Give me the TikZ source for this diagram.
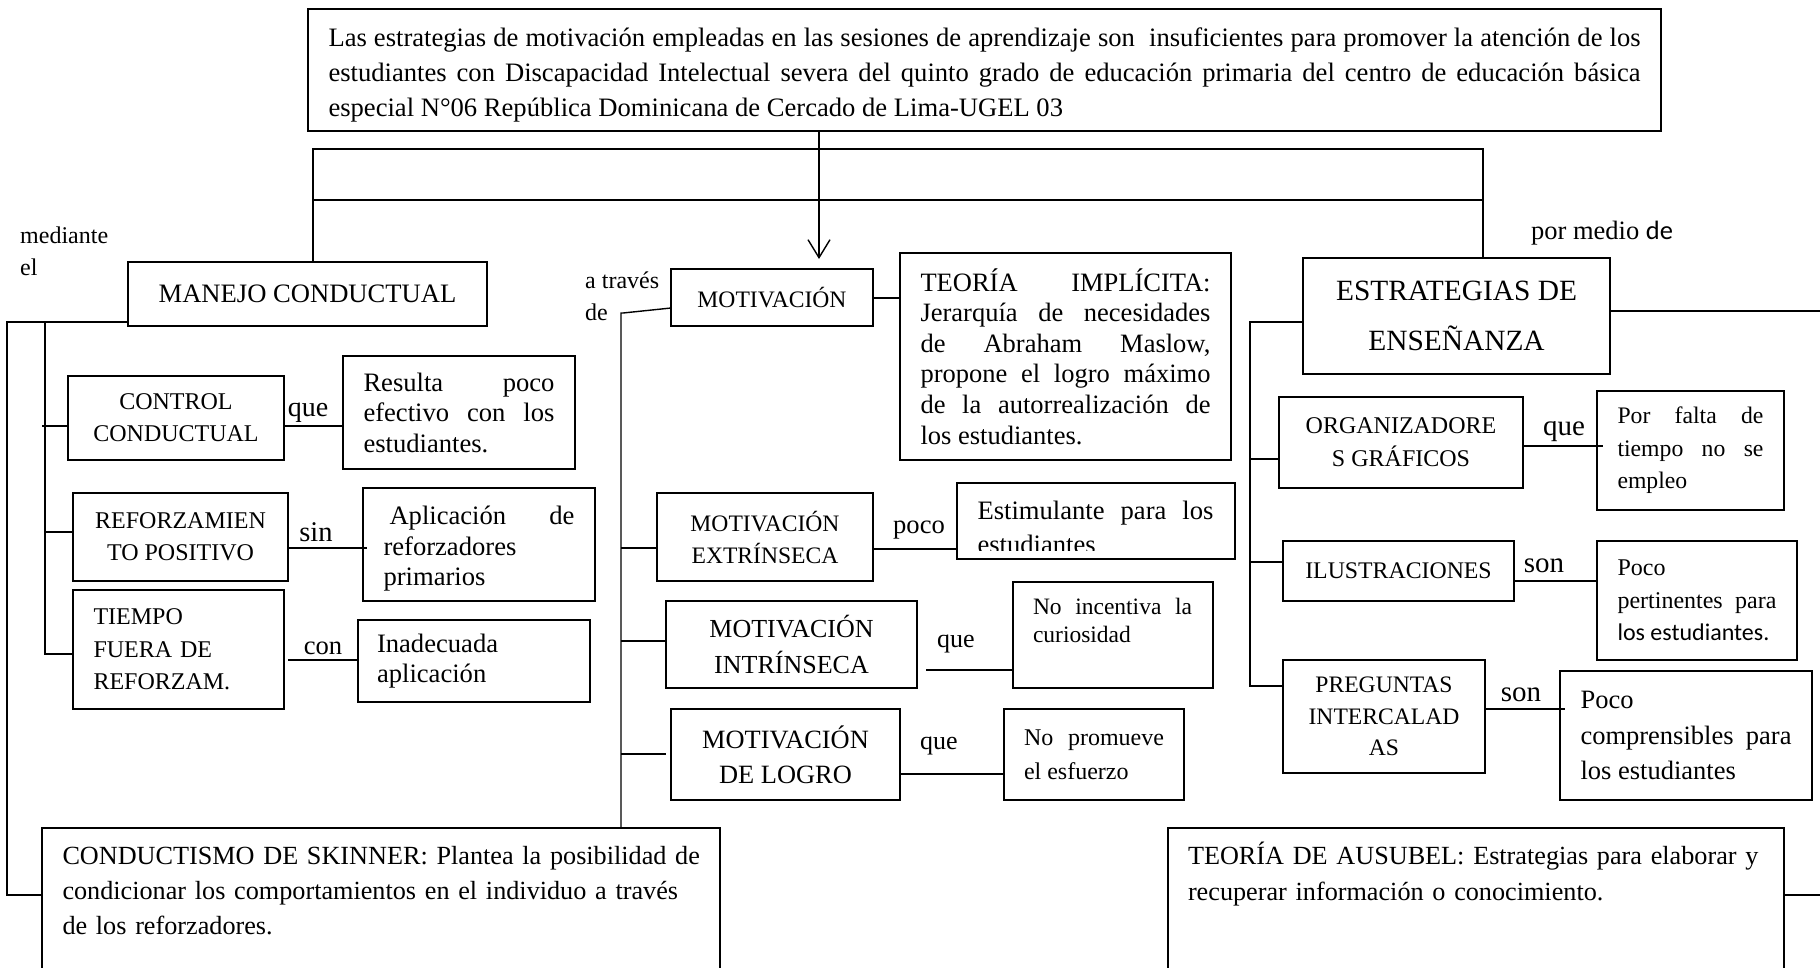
\documentclass[tikz,border=0pt]{standalone}
\usepackage{fontspec}
\setmainfont{Liberation Serif}
\newfontfamily\carl{Carlito}
\usetikzlibrary{arrows.meta}
\tolerance=10000
\hbadness=10000
\vbadness=10000
\hfuzz=20pt
\hyphenpenalty=10000
\exhyphenpenalty=10000
\begin{document}
\begin{tikzpicture}[x=1pt,y=-1pt,
  bx/.style={draw, line width=1.5pt, rectangle, anchor=north west, inner ysep=0pt, inner xsep=20.5pt, outer sep=0pt},
  cb/.style={bx, inner xsep=2pt, align=center},
  jb/.style={bx, align=justify},
  tx/.style={anchor=base west, inner ysep=0pt, inner xsep=20.5pt, outer sep=0pt},
  ln/.style={line width=1.4pt},
  lb/.style={inner sep=0pt},
]
\useasboundingbox (0,0) rectangle (1820,967);
\fill[white] (0,0) rectangle (1820,967);

% ---------- boxes ----------
\node[jb, minimum width=1353pt, minimum height=122pt, text width=1312pt, font=\fontsize{26.6pt}{35pt}\selectfont] (top) at (308,9)
 {\rule{0pt}{29pt}Las estrategias de motivación empleadas en las sesiones de aprendizaje son~ insuficientes para promover la atención de los\linebreak estudiantes con Discapacidad Intelectual severa del quinto grado de educación primaria del centro de educación básica\linebreak especial N°06 República Dominicana de Cercado de Lima-UGEL 03};

\node[cb, minimum width=359pt, minimum height=64pt, font=\fontsize{26.6pt}{32pt}\selectfont] (manejo) at (128,262) {MANEJO CONDUCTUAL};
\node[cb, minimum width=216pt, minimum height=84pt, font=\fontsize{24pt}{32pt}\selectfont] (control) at (68,376) {CONTROL\\CONDUCTUAL};
\node[jb, minimum width=232pt, minimum height=113pt, text width=191pt, font=\fontsize{26.6pt}{30.5pt}\selectfont] (resulta) at (343,356) {Resulta poco\linebreak efectivo con los\linebreak estudiantes.};
\node[cb, minimum width=215pt, minimum height=88pt, font=\fontsize{24pt}{32pt}\selectfont] (reforz) at (73,493) {REFORZAMIEN\\TO POSITIVO};
\node[jb, minimum width=232pt, minimum height=113pt, text width=191pt, font=\fontsize{26.6pt}{30.5pt}\selectfont] (aplic) at (363,488) {\rule{0pt}{27.5pt}\hspace*{6pt}Aplicación de\linebreak reforzadores\linebreak primarios};
\node[bx, align=left, minimum width=211pt, minimum height=119pt, text width=170pt, font=\fontsize{24pt}{32.5pt}\selectfont] (tiempo) at (73,590) {TIEMPO\\FUERA DE\\REFORZAM.};
\node[bx, align=left, inner xsep=19pt, minimum width=232pt, minimum height=82pt, text width=194pt, font=\fontsize{26.6pt}{30pt}\selectfont] (inadec) at (358,620) {Inadecuada\\aplicación};

\node[cb, minimum width=202pt, minimum height=57pt, font=\fontsize{23.6pt}{30pt}\selectfont] (motiv) at (671,269) {MOTIVACIÓN};
\node[jb, minimum width=331pt, minimum height=207pt, text width=290pt, font=\fontsize{26.5pt}{30.6pt}\selectfont] (teoria) at (900,253) {TEORÍA IMPLÍCITA:\linebreak Jerarquía de necesidades\linebreak de Abraham Maslow,\linebreak propone el logro máximo\linebreak de la autorrealización de\linebreak los estudiantes.};
\node[bx, align=center, text width=212pt, inner xsep=2pt, minimum width=216pt, minimum height=88pt, font=\fontsize{23.6pt}{32pt}\selectfont] (extr) at (657,493) {MOTIVACIÓN\\EXTRÍNSECA};
\node[bx, minimum width=278pt, minimum height=76pt] (estim) at (957,483) {};
\begin{scope}
\clip (estim.north west) rectangle (estim.south east |- 0,550);
\node[tx, text width=236pt, align=justify, font=\fontsize{26.6pt}{34pt}\selectfont] (estimtxt) at (957,519) {Estimulante para los\linebreak estudiantes};
\end{scope}
\node[cb, minimum width=251pt, minimum height=87pt, font=\fontsize{26pt}{36pt}\selectfont] (intr) at (666,601) {MOTIVACIÓN\\INTRÍNSECA};
\node[bx, minimum width=200pt, minimum height=106pt] (noinc) at (1013,582) {};
\node[tx, inner xsep=20pt, text width=159pt, align=justify, font=\fontsize{23.5pt}{28pt}\selectfont] (noinctxt) at (1013,614) {No incentiva la\linebreak curiosidad};
\node[cb, minimum width=229pt, minimum height=91pt, font=\fontsize{26.4pt}{35pt}\selectfont] (logro) at (671,709) {MOTIVACIÓN\\DE LOGRO};
\node[jb, inner xsep=20pt, minimum width=180pt, minimum height=91pt, text width=140pt, font=\fontsize{24pt}{34pt}\selectfont] (noprom) at (1004,709) {No promueve\linebreak el esfuerzo};

\node[cb, minimum width=307pt, minimum height=116pt, font=\fontsize{29.4pt}{50pt}\selectfont] (estr) at (1303,258) {ESTRATEGIAS DE\\ENSEÑANZA};
\node[cb, minimum width=244pt, minimum height=91pt, font=\fontsize{24pt}{33pt}\selectfont] (org) at (1279,397) {ORGANIZADORE\\S GRÁFICOS};
\node[jb, minimum width=187pt, minimum height=119pt, text width=146pt, font=\fontsize{23.7pt}{32.5pt}\selectfont] (porf) at (1597,391) {Por falta de\linebreak tiempo no se\linebreak empleo};
\node[cb, minimum width=231pt, minimum height=60pt, font=\fontsize{23.8pt}{30pt}\selectfont] (ilus) at (1283,541) {ILUSTRACIONES};
\node[jb, minimum width=200pt, minimum height=119pt, text width=159pt, font=\fontsize{24pt}{32.5pt}\selectfont] (pert) at (1597,541) {Poco\linebreak pertinentes para\linebreak {\carl los estudiantes.}};
\node[cb, minimum width=202pt, minimum height=113pt, font=\fontsize{23.6pt}{31.5pt}\selectfont] (preg) at (1283,660) {PREGUNTAS\\INTERCALAD\\AS};
\node[jb, minimum width=252pt, minimum height=129pt, text width=211pt, font=\fontsize{26.5pt}{35.5pt}\selectfont] (compr) at (1560,671) {Poco\linebreak comprensibles para\linebreak los estudiantes};

\node[bx, minimum width=678pt, minimum height=150pt] (skinner) at (42,828) {};
\node[tx, text width=652pt, align=left, font=\fontsize{26.2pt}{35pt}\selectfont] (skinnertxt) at (42,864) {CONDUCTISMO DE SKINNER: Plantea la posibilidad de\\condicionar los comportamientos en el individuo a través\\de los reforzadores.};
\node[bx, minimum width=616pt, minimum height=150pt] (ausubel) at (1168,828) {};
\node[tx, inner xsep=20pt, text width=592pt, align=left, font=\fontsize{26.2pt}{36pt}\selectfont] (ausubeltxt) at (1168,864) {TEORÍA DE AUSUBEL: Estrategias para elaborar y\\recuperar información o conocimiento.};

% ---------- free labels ----------
\node[lb, anchor=base west, align=left, font=\fontsize{24pt}{32pt}\selectfont] (mediante) at (20,275) {mediante\\el};
\node[lb, anchor=base west, align=left, font=\fontsize{24pt}{32pt}\selectfont] (atraves) at (585,320) {a través\\de};
\node[lb, font=\fontsize{26.5pt}{30pt}\selectfont] (pormedio) at (1602,233) {por medio {\carl de}};
\node[lb, font=\fontsize{28pt}{30pt}\selectfont] (que1) at (308,413) {que};
\node[lb, font=\fontsize{28.5pt}{30pt}\selectfont] (sin) at (316,532) {sin};
\node[lb, font=\fontsize{26.6pt}{30pt}\selectfont] (con) at (323,648) {con};
\node[lb, font=\fontsize{26.6pt}{30pt}\selectfont] (poco) at (919,530) {poco};
\node[lb, font=\fontsize{26pt}{30pt}\selectfont] (que2) at (956,644) {que};
\node[lb, font=\fontsize{26pt}{30pt}\selectfont] (que3) at (939,746) {que};
\node[lb, font=\fontsize{29pt}{30pt}\selectfont] (que4) at (1564,432) {que};
\node[lb, font=\fontsize{29pt}{30pt}\selectfont] (son1) at (1544,566) {son};
\node[lb, font=\fontsize{29pt}{30pt}\selectfont] (son2) at (1521,695) {son};

% ---------- helper coordinates ----------
\coordinate (hl1) at (313,149);
\coordinate (hr1) at (1483,149);
\coordinate (hl2) at (313,200);
\coordinate (hr2) at (1483,200);
\coordinate (arrx) at (819,0);
\coordinate (lo) at (7,0);
\coordinate (li) at (45,322);
\coordinate (mb) at (621,313);
\coordinate (rb) at (1250,322);
\coordinate (redge) at (1825,0);

% ---------- top structure ----------
\draw[ln] (hl1 |- manejo.north) -- (hl1) -- (hr1) -- (hr1 |- estr.north);
\draw[ln] (hl2) -- (hr2);
\draw[ln, -{Straight Barb[length=18pt,width=22pt,line width=1.4pt]}, shorten >=10pt] (arrx |- top.south) -- (arrx |- motiv.north);

% ---------- left branch ----------
\draw[ln] (manejo.west |- 0,322) -- (lo |- 0,322) -- (lo |- 0,895) -- (skinner.west |- 0,895);
\draw[ln] (li) -- (li |- 0,654) -- (tiempo.west |- 0,654);
\draw[ln] ([xshift=-3pt]li |- 0,426) -- (control.west |- 0,426);
\draw[ln] (li |- 0,532) -- (reforz.west |- 0,532);
\draw[ln] (control.east |- 0,426) -- (resulta.west |- 0,426);
\draw[ln, shorten >=-4pt] (reforz.east |- 0,548) -- (aplic.west |- 0,548);
\draw[ln, shorten <=4pt] (tiempo.east |- 0,660) -- (inadec.west |- 0,660);

% ---------- middle branch ----------
\draw[ln] (motiv.west |- 0,308) -- ([xshift=2pt]mb) -- (mb) -- (mb |- skinner.north);
\draw[ln] (mb |- 0,548) -- (extr.west |- 0,548);
\draw[ln] (mb |- 0,641) -- (intr.west |- 0,641);
\draw[ln, shorten >=5pt] (mb |- 0,754) -- (logro.west |- 0,754);
\draw[ln] (motiv.east |- 0,298) -- (teoria.west |- 0,298);
\draw[ln] (extr.east |- 0,549) -- (estim.west |- 0,549);
\draw[ln, shorten <=9pt] (intr.east |- 0,670) -- (noinc.west |- 0,670);
\draw[ln] (logro.east |- 0,774) -- (noprom.west |- 0,774);

% ---------- right branch ----------
\draw[ln] (estr.west |- 0,322) -- (rb) -- (rb |- 0,686) -- (preg.west |- 0,686);
\draw[ln] (rb |- 0,459) -- (org.west |- 0,459);
\draw[ln] (rb |- 0,562) -- (ilus.west |- 0,562);
\draw[ln, shorten >=-6pt] (org.east |- 0,446) -- (porf.west |- 0,446);
\draw[ln] (ilus.east |- 0,581) -- (pert.west |- 0,581);
\draw[ln, shorten >=-5pt] (preg.east |- 0,709) -- (compr.west |- 0,709);
\draw[ln] (estr.east |- 0,311) -- (redge |- 0,311);
\draw[ln] (ausubel.east |- 0,895) -- (redge |- 0,895);
\end{tikzpicture}
\end{document}
